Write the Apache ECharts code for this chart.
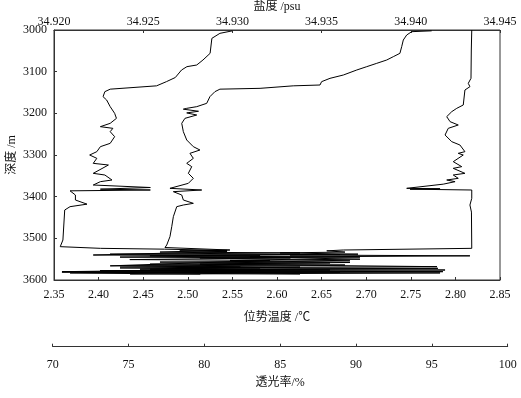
<!DOCTYPE html>
<html>
<head>
<meta charset="utf-8">
<script src="https://cdn.jsdelivr.net/npm/echarts@6/dist/echarts.min.js"></script>
<style>
  html, body { margin: 0; padding: 0; background: #fff; }
  #chart { width: 521px; height: 398px; }
</style>
</head>
<body>
<div id="chart"></div>
<script>
  // 位势温度 profile [温度 ℃, 深度 m]
  const tempProfile = [
    [2.550, 3002], [2.536, 3008], [2.527, 3020], [2.525, 3056], [2.517, 3072],
    [2.510, 3084], [2.499, 3088], [2.493, 3096], [2.486, 3114], [2.476, 3124],
    [2.465, 3134], [2.413, 3142], [2.407, 3148], [2.405, 3160], [2.409, 3168],
    [2.413, 3184], [2.418, 3200], [2.420, 3212], [2.413, 3224], [2.402, 3232],
    [2.416, 3236], [2.413, 3244], [2.418, 3256], [2.413, 3272], [2.402, 3280],
    [2.398, 3292], [2.390, 3300], [2.398, 3308], [2.394, 3320], [2.411, 3324],
    [2.394, 3344], [2.407, 3348], [2.415, 3360], [2.402, 3364], [2.394, 3372],
    [2.458, 3378], [2.402, 3382], [2.458, 3384], [2.368, 3386], [2.374, 3396],
    [2.374, 3408], [2.387, 3418], [2.368, 3424], [2.362, 3432], [2.360, 3504],
    [2.357, 3520], [2.402, 3524], [2.474, 3526]
  ];
  // bottom scatter of the temperature record
  const tempBottom = [
    [2.544, 3529], [2.491, 3530], [2.544, 3532], [2.394, 3540], [2.581, 3542],
    [2.424, 3545], [2.615, 3547], [2.435, 3551], [2.592, 3553], [2.413, 3566],
    [2.559, 3569], [2.424, 3571], [2.581, 3574], [2.359, 3580], [2.570, 3581],
    [2.368, 3583], [2.514, 3586]
  ];

  // 盐度 profile [psu, m]
  const salProfile = [
    [34.94117, 3002], [34.94005, 3004], [34.94005, 3008], [34.93977, 3012],
    [34.93958, 3024], [34.93949, 3040], [34.93939, 3056], [34.93902, 3064],
    [34.93865, 3072], [34.93809, 3080], [34.93753, 3088], [34.93697, 3096],
    [34.93622, 3108], [34.93547, 3116], [34.93500, 3124], [34.93491, 3132],
    [34.93341, 3134], [34.93155, 3140], [34.92930, 3142], [34.92902, 3148],
    [34.92874, 3160], [34.92856, 3176], [34.92800, 3184], [34.92744, 3188],
    [34.92725, 3190], [34.92810, 3195], [34.92744, 3199], [34.92800, 3204],
    [34.92734, 3212], [34.92716, 3224], [34.92725, 3244], [34.92744, 3264],
    [34.92781, 3280], [34.92818, 3288], [34.92762, 3296], [34.92781, 3308],
    [34.92744, 3320], [34.92772, 3328], [34.92753, 3344], [34.92781, 3356],
    [34.92753, 3368], [34.92762, 3372], [34.92650, 3380], [34.92828, 3384],
    [34.92669, 3388], [34.92716, 3396], [34.92725, 3408], [34.92781, 3416],
    [34.92725, 3420], [34.92688, 3424], [34.92669, 3448], [34.92660, 3472],
    [34.92650, 3496], [34.92632, 3516], [34.92622, 3522]
  ];
  const salBottom = [
    [34.92986, 3528], [34.92594, 3533], [34.93379, 3535], [34.92314, 3538],
    [34.93603, 3539], [34.92538, 3542], [34.93715, 3545], [34.92818, 3547],
    [34.93659, 3554], [34.92594, 3557], [34.93547, 3559], [34.92538, 3562],
    [34.93631, 3564], [34.92370, 3566], [34.93379, 3569], [34.92482, 3574],
    [34.93547, 3576], [34.92258, 3578], [34.93603, 3581], [34.92146, 3582],
    [34.93379, 3586]
  ];

  // 透光率 profile [%, m]
  const transProfile = [
    [97.63, 3000], [97.60, 3048], [97.58, 3116], [97.40, 3128], [97.51, 3136],
    [97.18, 3144], [97.07, 3180], [96.64, 3188], [96.31, 3196], [95.98, 3208],
    [96.20, 3220], [96.74, 3228], [96.08, 3236], [95.87, 3252], [96.31, 3268],
    [96.85, 3276], [97.18, 3292], [96.74, 3296], [97.07, 3300], [96.41, 3316],
    [96.97, 3328], [96.41, 3332], [97.18, 3344], [96.41, 3348], [96.74, 3356],
    [95.98, 3360], [96.53, 3364], [95.75, 3370], [93.34, 3380], [95.54, 3381],
    [93.56, 3382], [97.63, 3384], [97.63, 3404], [97.51, 3420], [97.61, 3437],
    [97.63, 3524], [89.16, 3528], [88.07, 3530]
  ];
  const transBottom = [
    [89.27, 3533], [84.99, 3535], [90.13, 3538], [85.65, 3540], [97.51, 3542],
    [83.01, 3545], [90.26, 3550], [81.69, 3553], [89.60, 3558], [79.71, 3562],
    [95.34, 3568], [78.39, 3570], [95.40, 3572], [76.42, 3574], [95.87, 3576],
    [73.12, 3578], [95.73, 3580], [70.61, 3581], [95.54, 3583], [75.10, 3586]
  ];

  const serif = '"Liberation Serif", "Times New Roman", "Noto Sans CJK SC", serif';
  const axisColor = '#333';
  const textColor = '#111';

  const chart = echarts.init(document.getElementById('chart'));

  const baseX = {
    type: 'value',
    nameLocation: 'middle',
    nameTextStyle: { fontFamily: serif, fontSize: 12, color: textColor },
    axisLine: { show: true, lineStyle: { color: axisColor, width: 1 } },
    axisTick: { show: true, inside: true, length: 3, lineStyle: { color: axisColor } },
    axisLabel: { fontFamily: serif, fontSize: 12, color: textColor },
    splitLine: { show: false }
  };

  chart.setOption({
    animation: false,
    backgroundColor: '#fff',
    grid: [
      { left: 54, right: 21, top: 30, height: 250, show: true, borderColor: axisColor, borderWidth: 1,
        containLabel: false, outerBoundsMode: 'none' },
      { left: 52.7, right: 13.3, top: 30, height: 250, show: false,
        containLabel: false, outerBoundsMode: 'none' }
    ],
    xAxis: [
      Object.assign({}, baseX, {
        gridIndex: 0, position: 'bottom', name: '位势温度 /℃', nameGap: 32,
        min: 2.35, max: 2.85, interval: 0.05,
        axisLabel: Object.assign({}, baseX.axisLabel, { margin: 9, formatter: v => v.toFixed(2) })
      }),
      Object.assign({}, baseX, {
        gridIndex: 0, position: 'top', name: '盐度 /psu', nameGap: 17, nameMoveOverlap: false,
        min: 34.920, max: 34.945, interval: 0.005,
        axisLabel: Object.assign({}, baseX.axisLabel, { margin: 2, formatter: v => v.toFixed(3) })
      }),
      Object.assign({}, baseX, {
        gridIndex: 1, position: 'bottom', offset: 66.7, name: '透光率/%', nameGap: 30,
        min: 70, max: 100, interval: 5,
        axisLabel: Object.assign({}, baseX.axisLabel, { margin: 12 })
      })
    ],
    yAxis: [
      {
        type: 'value', gridIndex: 0, inverse: true, min: 3000, max: 3600, interval: 100,
        name: '深度 /m', nameLocation: 'middle', nameGap: 36, nameMoveOverlap: false,
        nameTextStyle: { fontFamily: serif, fontSize: 12, color: textColor },
        axisLine: { show: true, lineStyle: { color: axisColor, width: 1 } },
        axisTick: { show: true, inside: true, length: 3, lineStyle: { color: axisColor } },
        axisLabel: { fontFamily: serif, fontSize: 12, color: textColor, margin: 7, formatter: v => String(v) },
        splitLine: { show: false }
      },
      {
        type: 'value', gridIndex: 1, inverse: true, min: 3000, max: 3600, show: false
      }
    ],
    series: [
      {
        name: '位势温度', type: 'line', xAxisIndex: 0, yAxisIndex: 0,
        data: tempProfile.concat(tempBottom), showSymbol: false,
        lineStyle: { color: '#000', width: 1 }
      },
      {
        name: '盐度', type: 'line', xAxisIndex: 1, yAxisIndex: 0,
        data: salProfile.concat(salBottom), showSymbol: false,
        lineStyle: { color: '#000', width: 1 }
      },
      {
        name: '透光率', type: 'line', xAxisIndex: 2, yAxisIndex: 1,
        data: transProfile.concat(transBottom), showSymbol: false,
        lineStyle: { color: '#000', width: 1 }
      }
    ]
  });
</script>
</body>
</html>
